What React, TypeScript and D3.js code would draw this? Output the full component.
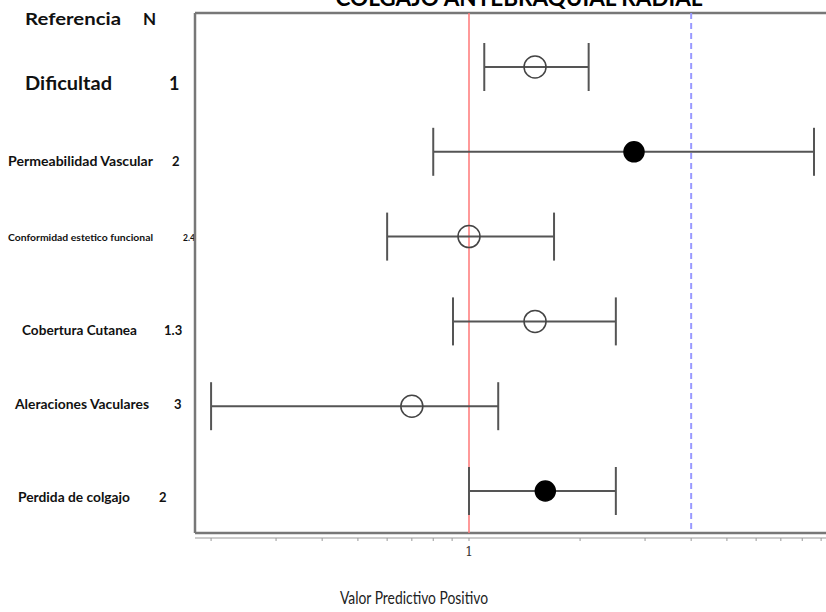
import React from "react";
import * as d3 from "d3";

const categories = [
  "Dificultad",
  "Permeabilidad Vascular",
  "Conformidad estetico funcional",
  "Cobertura Cutanea",
  "Aleraciones Vaculares",
  "Perdida de colgajo",
];
const nValues = ["1", "2", "2.4", "1.3", "3", "2"];
const estimates = [1.51, 2.8, 1.0, 1.51, 0.7, 1.61];
const lower = [1.1, 0.8, 0.6, 0.905, 0.2, 1.0];
const upper = [2.11, 8.61, 1.7, 2.5, 1.2, 2.5];
const filled = [false, true, false, false, false, true];
const tickValues = [0.2, 0.3, 0.4, 0.5, 0.6, 0.7, 0.8, 0.9, 1, 2, 3, 4, 5, 6, 7, 8, 9];
const tickLabels = ["1"];
const refLine = 1;
const thresholdLine = 4;

// label styles per row
const labelStyle = [
  { size: 18, x: 25, w: 87, nx: 169, ns: 18 },
  { size: 13, x: 8, w: 145, nx: 172, ns: 13 },
  { size: 8.5, x: 8, w: 145, nx: 183, ns: 8.5 },
  { size: 13, x: 22, w: 115, nx: 164, ns: 13 },
  { size: 13, x: 15, w: 134, nx: 174, ns: 13 },
  { size: 13, x: 18, w: 112, nx: 159, ns: 13 },
];
const labelY = [85, 163, 239, 332, 406, 499];

export default function App() {
  const W = 826;
  const H = 612;
  const left = 195;
  const top = 13;
  const bottom = 533;
  const right = 840;

  const x = d3.scaleLog().domain([0.1, 10]).range([100, 838]);
  const y = d3.scalePoint<string>().domain(categories).range([67, 491]);

  const font = "Lato, 'Open Sans', sans-serif";
  const capH = 24;

  return (
    <svg
      width={W}
      height={H}
      style={{ position: "absolute", left: 0, top: 0, background: "#fff" }}
      fontFamily={font}
    >
      <defs>
        <clipPath id="plot">
          <rect x={left} y={top} width={right - left} height={bottom - top} />
        </clipPath>
      </defs>
      {/* title (cut at top as in the reference) */}
      <text
        x={519}
        y={6}
        textAnchor="middle"
        fontSize={22}
        fontWeight="bold"
        fill="#000"
        textLength={367}
        lengthAdjust="spacingAndGlyphs"
      >
        COLGAJO ANTEBRAQUIAL RADIAL
      </text>

      {/* header */}
      <text x={25} y={25} fontSize={17} fontWeight="bold" fill="#111" textLength={96} lengthAdjust="spacingAndGlyphs">
        Referencia
      </text>
      <text x={143} y={25} fontSize={17} fontWeight="bold" fill="#111">
        N
      </text>

      {/* row labels */}
      {categories.map((c, i) => (
        <g key={c}>
          <text
            x={labelStyle[i].x}
            y={labelY[i]}
            dominantBaseline="middle"
            fontSize={labelStyle[i].size}
            fontWeight="bold"
            fill="#111"
            textLength={labelStyle[i].w}
            lengthAdjust="spacingAndGlyphs"
          >
            {c}
          </text>
          <text
            x={labelStyle[i].nx}
            y={labelY[i]}
            dominantBaseline="middle"
            fontSize={labelStyle[i].ns}
            fontWeight="bold"
            fill="#111"
          >
            {nValues[i]}
          </text>
        </g>
      ))}

      {/* plot frame */}
      <line x1={left} x2={right} y1={top} y2={top} stroke="#777" strokeWidth={2.5} />
      <line x1={left} x2={left} y1={top} y2={bottom} stroke="#777" strokeWidth={2.5} />
      <line x1={left} x2={right} y1={bottom} y2={bottom} stroke="#777" strokeWidth={2.5} />

      <g clipPath="url(#plot)">
        <line
          x1={x(refLine)}
          x2={x(refLine)}
          y1={top}
          y2={bottom}
          stroke="#f77"
          strokeWidth={1.5}
        />
        <line
          x1={x(thresholdLine)}
          x2={x(thresholdLine)}
          y1={top}
          y2={bottom}
          stroke="#99f"
          strokeWidth={2}
          strokeDasharray="6,4"
        />
        {categories.map((c, i) => {
          const cy = y(c) as number;
          return (
            <g key={c}>
              <line
                x1={x(lower[i])}
                x2={x(upper[i])}
                y1={cy}
                y2={cy}
                stroke="#555"
                strokeWidth={2}
              />
              <line
                x1={x(lower[i])}
                x2={x(lower[i])}
                y1={cy - capH}
                y2={cy + capH}
                stroke="#555"
                strokeWidth={2}
              />
              <line
                x1={x(upper[i])}
                x2={x(upper[i])}
                y1={cy - capH}
                y2={cy + capH}
                stroke="#555"
                strokeWidth={2}
              />
              <circle
                cx={x(estimates[i])}
                cy={cy}
                r={filled[i] ? 10 : 11}
                fill={filled[i] ? "#000" : "none"}
                stroke={filled[i] ? "#000" : "#444"}
                strokeWidth={1.5}
              />
            </g>
          );
        })}
      </g>

      {/* x axis */}
      <line x1={left} x2={W} y1={538} y2={538} stroke="#bbb" strokeWidth={1.5} />
      {tickValues.map((t) => (
        <line
          key={t}
          x1={x(t)}
          x2={x(t)}
          y1={538}
          y2={541}
          stroke="#999"
          strokeWidth={1}
        />
      ))}
      {tickLabels.map((t) => (
        <text
          key={t}
          x={x(+t)}
          y={556}
          textAnchor="middle"
          fontSize={12}
          fontFamily="'DejaVu Serif', serif"
          fill="#333"
        >
          {t}
        </text>
      ))}

      <text x={414} y={604} textAnchor="middle" fontSize={17} fill="#222" textLength={148} lengthAdjust="spacingAndGlyphs">
        Valor Predictivo Positivo
      </text>
    </svg>
  );
}
